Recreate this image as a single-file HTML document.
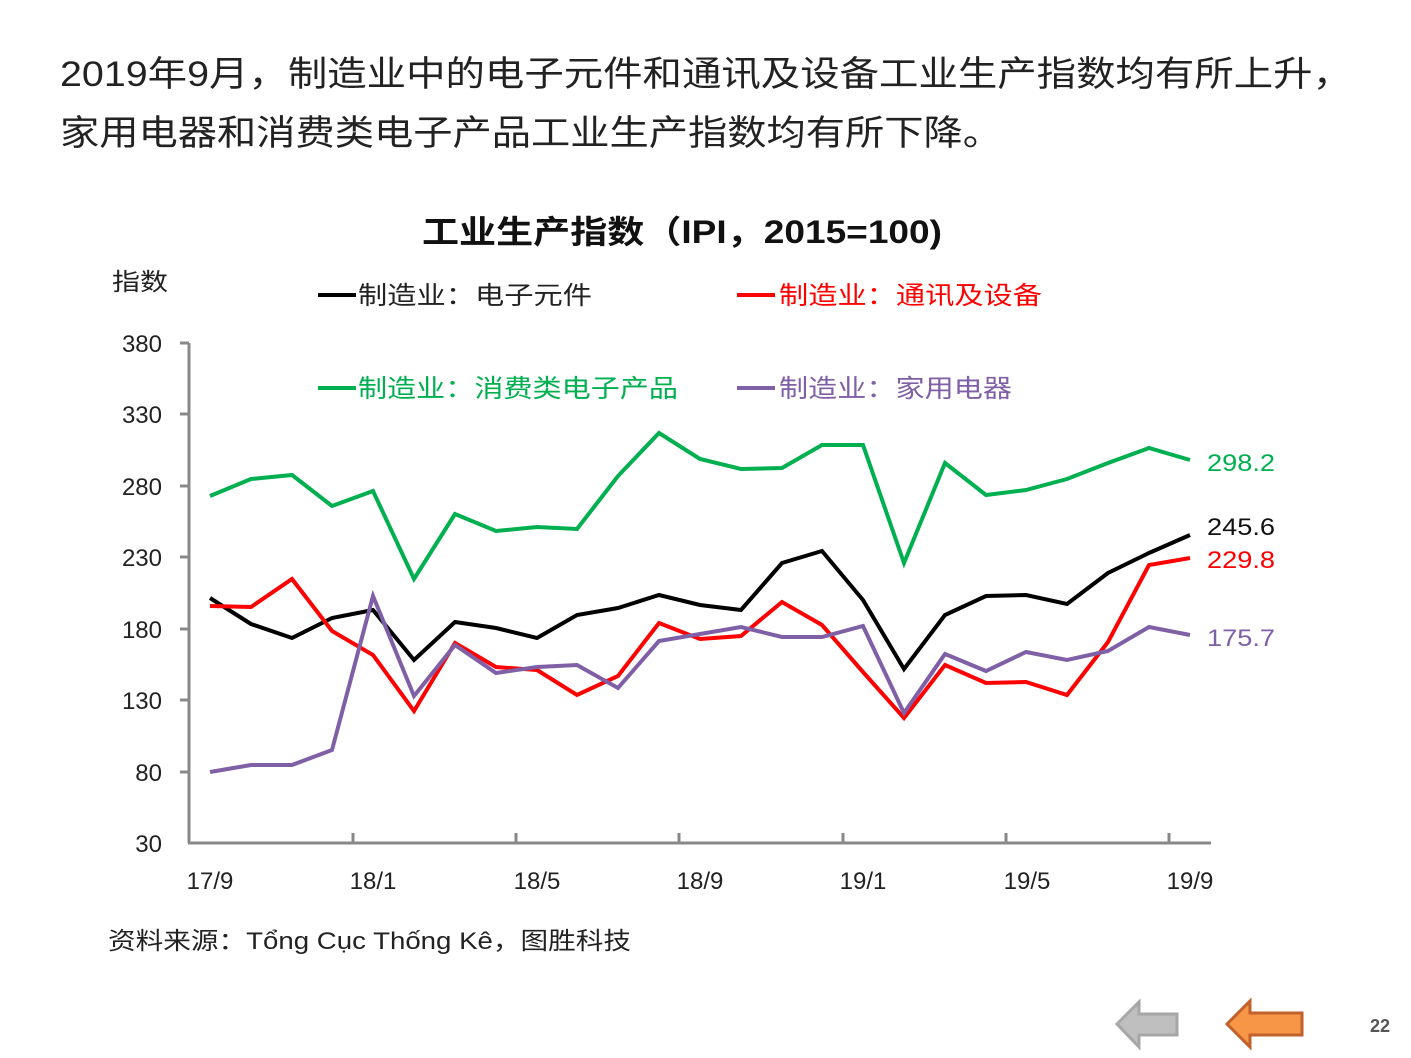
<!DOCTYPE html>
<html><head><meta charset="utf-8"><style>
body{margin:0;width:1411px;height:1058px;background:#fff;overflow:hidden}
svg{display:block}
text{font-family:"Liberation Sans","Noto Sans CJK SC",sans-serif}
</style></head><body>
<svg width="1411" height="1058" viewBox="0 0 1411 1058">
<text x="60" y="86" font-size="35" fill="#222" textLength="1292" lengthAdjust="spacingAndGlyphs">2019年9月，制造业中的电子元件和通讯及设备工业生产指数均有所上升，</text>
<text x="60" y="145" font-size="35" fill="#222" textLength="942" lengthAdjust="spacingAndGlyphs">家用电器和消费类电子产品工业生产指数均有所下降。</text>
<text x="422" y="243" font-size="32" font-weight="bold" fill="#111" textLength="520" lengthAdjust="spacingAndGlyphs">工业生产指数（IPI，2015=100)</text>
<text x="112" y="290" font-size="24" fill="#222" textLength="56" lengthAdjust="spacingAndGlyphs">指数</text>
<g font-size="25">
<line x1="318" y1="295" x2="356" y2="295" stroke="#000" stroke-width="4"/><text x="358" y="304" fill="#222" textLength="234" lengthAdjust="spacingAndGlyphs">制造业：电子元件</text>
<line x1="737" y1="295" x2="775" y2="295" stroke="#f00" stroke-width="4"/><text x="779" y="304" fill="#f00" textLength="263" lengthAdjust="spacingAndGlyphs">制造业：通讯及设备</text>
<line x1="318" y1="388" x2="356" y2="388" stroke="#00b050" stroke-width="4"/><text x="358" y="397" fill="#00b050" textLength="320" lengthAdjust="spacingAndGlyphs">制造业：消费类电子产品</text>
<line x1="737" y1="388" x2="775" y2="388" stroke="#7f5fa6" stroke-width="4"/><text x="779" y="397" fill="#7f5fa6" textLength="233" lengthAdjust="spacingAndGlyphs">制造业：家用电器</text>
</g>
<g stroke="#888" stroke-width="3">
<line x1="189" y1="343" x2="189" y2="843"/>
<line x1="188" y1="843" x2="1211" y2="843"/>
<line x1="180" y1="343" x2="189" y2="343"/><line x1="180" y1="414" x2="189" y2="414"/><line x1="180" y1="486" x2="189" y2="486"/><line x1="180" y1="557" x2="189" y2="557"/><line x1="180" y1="629" x2="189" y2="629"/><line x1="180" y1="700" x2="189" y2="700"/><line x1="180" y1="772" x2="189" y2="772"/>
<line x1="353" y1="833" x2="353" y2="843"/><line x1="516" y1="833" x2="516" y2="843"/><line x1="679" y1="833" x2="679" y2="843"/><line x1="843" y1="833" x2="843" y2="843"/><line x1="1006" y1="833" x2="1006" y2="843"/><line x1="1169" y1="833" x2="1169" y2="843"/>
</g>
<g font-size="24" fill="#222" text-anchor="end">
<text x="162" y="352">380</text><text x="162" y="423">330</text><text x="162" y="495">280</text><text x="162" y="566">230</text><text x="162" y="638">180</text><text x="162" y="709">130</text><text x="162" y="781">80</text><text x="162" y="852">30</text>
</g>
<g font-size="24" fill="#222" text-anchor="middle">
<text x="210" y="889">17/9</text><text x="373" y="889">18/1</text><text x="537" y="889">18/5</text><text x="700" y="889">18/9</text><text x="863" y="889">19/1</text><text x="1027" y="889">19/5</text><text x="1190" y="889">19/9</text>
</g>
<g fill="none" stroke-width="4" stroke-linejoin="miter">
<polyline stroke="#00b050" points="210,496 251,479 292,475 332,506 373,491 414,579 455,514 496,531 537,527 577,529 618,476 659,433 700,459 741,469 782,468 822,445 863,445 904,563 945,463 986,495 1026,490 1067,479 1108,463 1149,448 1190,460"/>
<polyline stroke="#000" points="210,598 251,624 292,638 332,618 373,610 414,660 455,622 496,628 537,638 577,615 618,608 659,595 700,605 741,610 782,563 822,551 863,600 904,669 945,615 986,596 1026,595 1067,604 1108,573 1149,553 1190,535"/>
<polyline stroke="#f00" points="210,606 251,607 292,579 332,631 373,655 414,711 455,643 496,667 537,670 577,695 618,676 659,623 700,639 741,636 782,602 822,625 863,672 904,718 945,665 986,683 1026,682 1067,695 1108,642 1149,565 1190,558"/>
<polyline stroke="#7f5fa6" points="210,772 251,765 292,765 332,750 373,596 414,696 455,645 496,673 537,667 577,665 618,688 659,641 700,634 741,627 782,637 822,637 863,626 904,713 945,654 986,671 1026,652 1067,660 1108,651 1149,627 1190,635"/>
</g>
<g font-size="24">
<text x="1207" y="471" fill="#00b050" textLength="68" lengthAdjust="spacingAndGlyphs">298.2</text>
<text x="1207" y="535" fill="#111" textLength="68" lengthAdjust="spacingAndGlyphs">245.6</text>
<text x="1207" y="568" fill="#f00" textLength="68" lengthAdjust="spacingAndGlyphs">229.8</text>
<text x="1207" y="646" fill="#7f5fa6" textLength="68" lengthAdjust="spacingAndGlyphs">175.7</text>
</g>
<text x="108" y="949" font-size="24" fill="#222" textLength="523" lengthAdjust="spacingAndGlyphs">资料来源：Tổng Cục Thống Kê，图胜科技</text>
<polygon points="1117,1024 1139,1002 1139,1014 1177,1014 1177,1035 1139,1035 1139,1047" fill="#bfbfbf" stroke="#a6a6a6" stroke-width="3"/>
<polygon points="1227,1024 1250,1001 1250,1013 1302,1013 1302,1035 1250,1035 1250,1047" fill="#f79646" stroke="#c0622a" stroke-width="3"/>
<text x="1370" y="1032" font-size="18" font-weight="bold" fill="#555">22</text>
</svg>
</body></html>
